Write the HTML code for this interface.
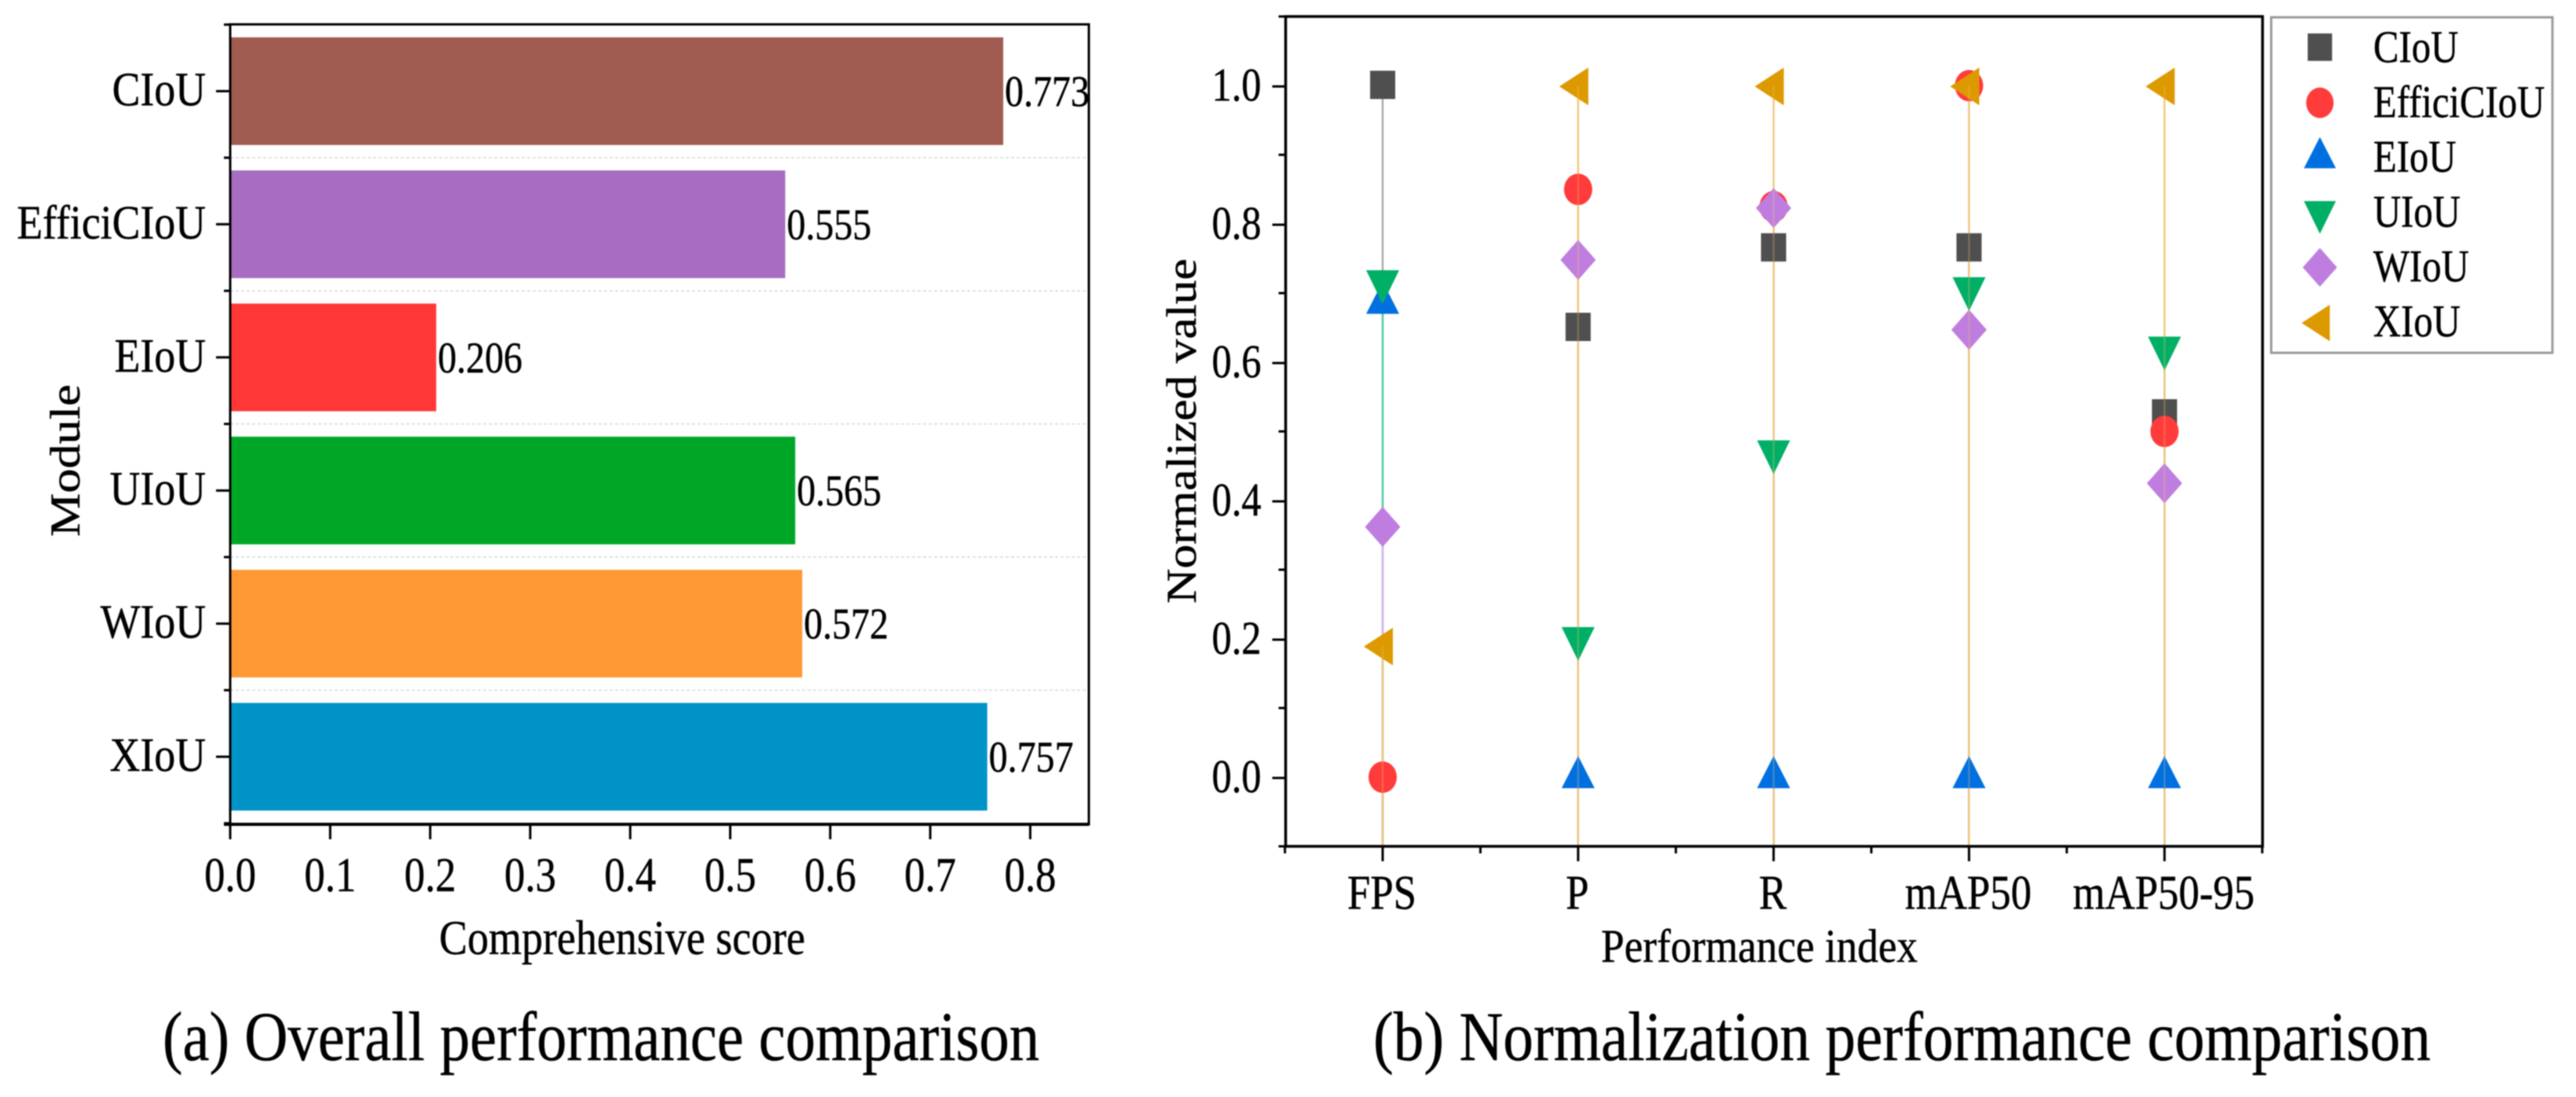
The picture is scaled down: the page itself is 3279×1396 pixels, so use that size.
<!DOCTYPE html>
<html lang="en">
<head>
<meta charset="utf-8">
<title>IoU loss performance comparison</title>
<style>
html,body{margin:0;padding:0;background:#fff;}
svg{display:block;filter:blur(0.7px);}
text{font-family:"Liberation Serif",serif;fill:#000;stroke:#000;stroke-width:0.5;text-rendering:geometricPrecision;}
</style>
</head>
<body>
<svg id="fig" xmlns="http://www.w3.org/2000/svg" width="3279" height="1396" viewBox="0 0 3279 1396">
  <rect width="3279" height="1396" fill="#fff"/>
  <g id="chartA"></g>
  <g id="chartB"></g>
  <text x="559" y="1214" font-size="62" textLength="466" lengthAdjust="spacingAndGlyphs">Comprehensive score</text>
  <text transform="translate(101,683) rotate(-90)" font-size="54" textLength="194" lengthAdjust="spacingAndGlyphs">Module</text>
  <text x="207" y="1349" font-size="89" textLength="1116" lengthAdjust="spacingAndGlyphs">(a) Overall performance comparison</text>
  <text x="2038" y="1224" font-size="60" textLength="403" lengthAdjust="spacingAndGlyphs">Performance index</text>
  <text transform="translate(1522,768) rotate(-90)" font-size="54" textLength="439" lengthAdjust="spacingAndGlyphs">Normalized value</text>
  <text x="1748" y="1349" font-size="89" textLength="1346" lengthAdjust="spacingAndGlyphs">(b) Normalization performance comparison</text>
</svg>
<script>
/* Chart (a) data */
const moduleNames = ['CIoU', 'EfficiCIoU', 'EIoU', 'UIoU', 'WIoU', 'XIoU'];
const moduleScores = [0.773, 0.555, 0.206, 0.565, 0.572, 0.757];
const barColors = ['#a05c50', '#a76dc0', '#ff3737', '#00a727', '#ff9933', '#0093c8'];
const scoreTicks = ['0.0', '0.1', '0.2', '0.3', '0.4', '0.5', '0.6', '0.7', '0.8'];

/* Chart (b) data */
const metricNames = ['FPS', 'P', 'R', 'mAP50', 'mAP50-95'];
const seriesNames = ['CIoU', 'EfficiCIoU', 'EIoU', 'UIoU', 'WIoU', 'XIoU'];
const ciouValues = [1.0, 0.65, 0.765, 0.765, 0.525];
const efficiCiouValues = [0.0, 0.85, 0.825, 1.0, 0.5];
const eiouValues = [0.686, 0.0, 0.0, 0.0, 0.0];
const uiouValues = [0.716, 0.2, 0.47, 0.706, 0.62];
const wiouValues = [0.362, 0.748, 0.823, 0.647, 0.425];
const xiouValues = [0.19, 1.0, 1.0, 1.0, 1.0];
const normTicks = ['0.0', '0.2', '0.4', '0.6', '0.8', '1.0'];
const minorNormTicks = ['-0.1', '0.1', '0.3', '0.5', '0.7', '0.9', '1.1'];

const NS = 'http://www.w3.org/2000/svg';

function make(parent, tag, name, props) {
  const el = document.createElementNS(NS, tag);
  
  
  for (const k in props) el.setAttribute(k, props[k]);
  parent.appendChild(el);
  return el;
}
function line(parent, name, x1, y1, x2, y2, stroke, w) {
  return make(parent, 'line', name, {x1: x1, y1: y1, x2: x2, y2: y2, stroke: stroke, 'stroke-width': w});
}
function label(parent, name, str, x, y, size, hs, anchor) {
  const t = make(parent, 'text', name, {transform: 'translate(' + x + ',' + y + ') scale(' + hs + ',1)', 'font-size': size, 'text-anchor': anchor});
  t.textContent = str;
  return t;
}

/* ---------- Chart (a) ---------- */
const A = {left: 293, right: 1386, top: 31, bottom: 1049, unit: 1273, first: 116, step: 169.4, barH: 137};
function scoreX(v) { return A.left + v * A.unit; }
function moduleY(i) { return A.first + i * A.step; }

(function () {
  const g = document.getElementById('chartA');
  for (let i = 0; i < moduleNames.length - 1; i++) {
    const gy = moduleY(i + 0.5);
    make(g, 'line', 'gridline', {x1: A.left, y1: gy, x2: A.right, y2: gy, stroke: '#d8d8d8', 'stroke-width': 1.5, 'stroke-dasharray': '4 3'});
  }
  moduleScores.forEach(function (v, i) {
    make(g, 'rect', 'bar-' + moduleNames[i].toLowerCase(), {x: A.left, y: moduleY(i) - A.barH / 2, width: scoreX(v) - A.left, height: A.barH, fill: barColors[i]});
    label(g, 'value-label-' + moduleNames[i].toLowerCase(), v.toFixed(3), scoreX(v) + 2, moduleY(i) + 19, 56, 0.855, 'start');
    line(g, 'y-tick', A.left - 18, moduleY(i), A.left, moduleY(i), '#000', 3);
    label(g, 'y-tick-label-' + moduleNames[i].toLowerCase(), moduleNames[i], A.left - 31, moduleY(i) + 18, 61, 0.88, 'end');
  });
  for (let i = 0; i <= moduleNames.length; i++) {
    line(g, 'y-minor-tick', A.left - 8, moduleY(i - 0.5), A.left, moduleY(i - 0.5), '#000', 3);
  }
  scoreTicks.forEach(function (s) {
    const tx = scoreX(parseFloat(s));
    line(g, 'x-tick', tx, A.bottom, tx, A.bottom + 19, '#000', 3);
    label(g, 'x-tick-label', s, tx, 1134, 62, 0.85, 'middle');
  });
  make(g, 'rect', 'plot-frame-a', {x: A.left, y: A.top, width: A.right - A.left, height: A.bottom - A.top, fill: 'none', stroke: '#000', 'stroke-width': 3});
  line(g, 'x-axis-line', A.left - 8, A.bottom, A.right, A.bottom, '#000', 4);
})();

/* ---------- Chart (b) ---------- */
const B = {left: 1636.5, right: 2880, top: 21, bottom: 1077, first: 1760, step: 248.8, zero: 989, unit: 880};
function metricX(i) { return B.first + i * B.step; }
function normY(v) { return B.zero - v * B.unit; }

const markerColors = ['#4f4f4f', '#ff3b3b', '#0070e0', '#00af66', '#c07de0', '#dd9900'];
const lineColors = ['#a0a0a0', '#ff9c9c', '#7fb8f0', '#45cc95', '#d9aef0', '#f0c470'];

function marker(parent, kind, cx, cy, k, name) {
  const fill = markerColors[kind];
  function poly(pts) {
    const s = pts.map(function (p) { return (cx + p[0] * k) + ',' + (cy + p[1] * k); }).join(' ');
    return make(parent, 'polygon', name, {points: s, fill: fill});
  }
  if (kind === 0) return make(parent, 'rect', name, {x: cx - 16 * k, y: cy - 19 * k, width: 32 * k, height: 36 * k, fill: fill});
  if (kind === 1) return make(parent, 'ellipse', name, {cx: cx, cy: cy, rx: 18 * k, ry: 20 * k, fill: fill});
  if (kind === 2) return poly([[0, -27], [21, 14], [-21, 14]]);
  if (kind === 3) return poly([[-21, -15], [21, -15], [0, 28]]);
  if (kind === 4) return poly([[0, -25.5], [22.5, 0], [0, 25.5], [-22.5, 0]]);
  return poly([[-24, 1], [13, -23], [13, 25]]);
}

(function () {
  const g = document.getElementById('chartB');
  const allSeries = [ciouValues, efficiCiouValues, eiouValues, uiouValues, wiouValues, xiouValues];
  const lines = make(g, 'g', 'drop-lines', {});
  allSeries.forEach(function (vals, s) {
    vals.forEach(function (v, i) {
      line(lines, 'drop-line-' + seriesNames[s].toLowerCase(), metricX(i), normY(v), metricX(i), B.bottom, lineColors[s], 2.2);
    });
  });
  allSeries.forEach(function (vals, s) {
    const sg = make(g, 'g', 'series-' + seriesNames[s].toLowerCase(), {});
    vals.forEach(function (v, i) {
      marker(sg, s, metricX(i), normY(v), 1, 'point-' + seriesNames[s].toLowerCase() + '-' + metricNames[i].toLowerCase());
    });
  });
  const overlay = make(g, 'g', 'top-line-overlay', {opacity: 0.3});
  xiouValues.forEach(function (v, i) {
    line(overlay, 'overlay-line', metricX(i), normY(v), metricX(i), B.bottom, lineColors[5], 2.2);
  });
  make(g, 'rect', 'plot-frame-b', {x: B.left, y: B.top, width: B.right - B.left, height: B.bottom - B.top, fill: 'none', stroke: '#000', 'stroke-width': 3.5});
  normTicks.forEach(function (s) {
    const ty = normY(parseFloat(s));
    line(g, 'y-tick', B.left - 17, ty + 1, B.left, ty + 1, '#000', 3);
    label(g, 'y-tick-label', s, B.left - 31, ty + 19, 60, 0.84, 'end');
  });
  minorNormTicks.forEach(function (s) {
    const ty = normY(parseFloat(s));
    line(g, 'y-minor-tick', B.left - 9, ty, B.left, ty, '#000', 3);
  });
  metricNames.forEach(function (m, i) {
    line(g, 'x-tick', metricX(i), B.bottom, metricX(i), B.bottom + 19, '#000', 3);
    line(g, 'x-minor-tick', metricX(i - 0.5), B.bottom, metricX(i - 0.5), B.bottom + 9, '#000', 3);
    label(g, 'x-tick-label-' + m.toLowerCase(), m, metricX(i) - 1, 1156.5, 62, 0.85, 'middle');
  });
  line(g, 'x-minor-tick', metricX(4.5), B.bottom, metricX(4.5), B.bottom + 9, '#000', 3);

  const lg = make(g, 'g', 'legend', {});
  make(lg, 'rect', 'legend-box', {x: 2891, y: 22, width: 358, height: 427, fill: '#fff', stroke: '#9a9a9a', 'stroke-width': 3});
  seriesNames.forEach(function (n, s) {
    const base = 79 + s * 69.8;
    const e = make(lg, 'g', 'legend-entry-' + n.toLowerCase(), {});
    marker(e, s, 2953, base - 18, 0.97, 'legend-marker');
    label(e, 'legend-label', n, 3021, base, 58, 0.84, 'start');
  });
})();
</script>
</body>
</html>
